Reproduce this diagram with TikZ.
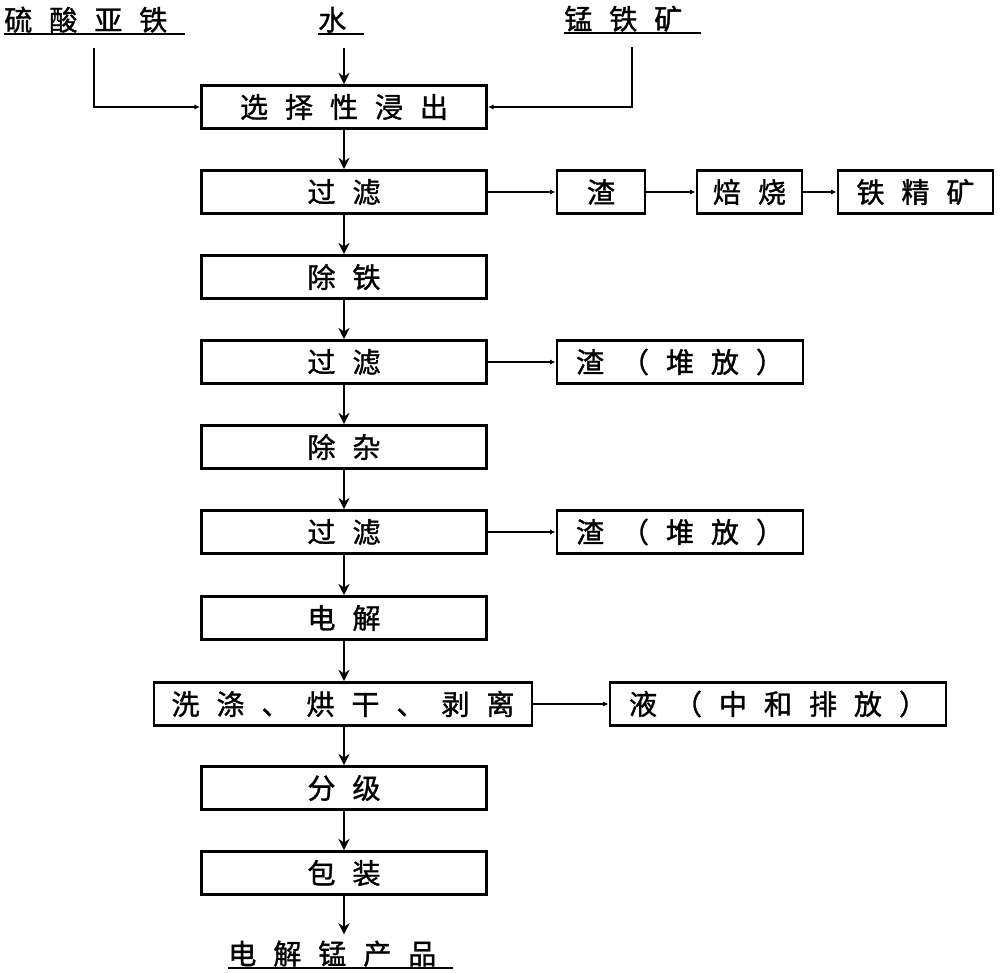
\documentclass[tikz,border=0pt]{standalone}
\usepackage{fontspec}
\newfontfamily\cjk{Noto Sans CJK SC}[LetterSpace=60, FakeBold=1.2]
\usetikzlibrary{arrows.meta}
\tikzstyle{process} = [rectangle, minimum width=71.25mm, minimum height=10.75mm, text centered, draw=black, line width=0.7mm, inner sep=0pt]
\tikzstyle{side} = [rectangle, minimum height=10.75mm, text centered, draw=black, line width=0.7mm, inner sep=0pt]
\tikzstyle{material} = [rectangle, minimum height=7mm, inner sep=0pt, anchor=south west, align=left]
\tikzstyle{arrow} = [line width=0.5mm, -{Stealth[length=2.8mm, width=2.8mm]}]
\tikzstyle{sidearrow} = [line width=0.5mm, -{Latex[length=1.4mm, width=1.3mm]}]
\tikzstyle{underline} = [line width=0.5mm]
\begin{document}
\begin{tikzpicture}[x=0.25mm, y=-0.25mm, font=\cjk\fontsize{20pt}{23pt}\selectfont]
\useasboundingbox (0, 0) rectangle (1000, 973);

% raw materials
\node at (4, 34) (feso) [material, text width=45mm] {硫酸亚铁};
\node at (318, 34) (water) [material, text width=11.25mm] {水};
\node at (564, 33) (ore) [material, text width=34mm] {锰铁矿};
\draw [underline] (feso.south west) -- (feso.south east);
\draw [underline] (water.south west) -- (water.south east);
\draw [underline] (ore.south west) -- (ore.south east);

% main line
\node at (344, 107) (leach) [process] {选择性浸出};
\node at (344, 192) (filt1) [process] {过滤};
\node at (344, 277) (defe) [process] {除铁};
\node at (344, 362) (filt2) [process] {过滤};
\node at (344, 447) (purify) [process] {除杂};
\node at (344, 532) (filt3) [process] {过滤};
\node at (344, 618) (elec) [process] {电解};
\node at (343, 704) (wash) [process, minimum width=94.5mm] {洗涤、烘干、剥离};
\node at (344, 788) (grade) [process] {分级};
\node at (344, 873) (pack) [process] {包装};
\node at (228, 968) (product) [material, text width=56mm] {电解锰产品};
\draw [underline] (product.south west) -- (product.south east);

% side products
\node at (601, 192) (slag1) [side, minimum width=22mm] {渣};
\node at (749.5, 192) (roast) [side, minimum width=26.25mm] {焙烧};
\node at (915.5, 192) (conc) [side, minimum width=38.75mm] {铁精矿};
\node at (680, 362) (slag2) [side, minimum width=61.5mm] {渣（堆放）};
\node at (680, 532) (slag3) [side, minimum width=61.5mm] {渣（堆放）};
\node at (778, 704) (liquor) [side, minimum width=84mm] {液（中和排放）};

\draw [sidearrow] ([yshift=-3.5mm]feso.south) |- (leach.west);
\draw [arrow] ([yshift=-3.5mm]water.south -| leach.north) -- (leach.north);
\draw [sidearrow] ([yshift=-3.5mm]ore.south) |- (leach.east);

\draw [arrow] (leach) -- (filt1);
\draw [arrow] (filt1) -- (defe);
\draw [arrow] (defe) -- (filt2);
\draw [arrow] (filt2) -- (purify);
\draw [arrow] (purify) -- (filt3);
\draw [arrow] (filt3) -- (elec);
\draw [arrow] (elec.south) -- (wash.north -| elec.south);
\draw [arrow] (wash.south -| grade.north) -- (grade.north);
\draw [arrow] (grade) -- (pack);
\draw [arrow] (pack.south) -- ([yshift=1.25mm]product.north -| pack.south);

\draw [sidearrow] (filt1) -- (slag1);
\draw [sidearrow] (slag1) -- (roast);
\draw [sidearrow] (roast) -- (conc);
\draw [sidearrow] (filt2) -- (slag2);
\draw [sidearrow] (filt3) -- (slag3);
\draw [sidearrow] (wash) -- (liquor);

\end{tikzpicture}
\end{document}
